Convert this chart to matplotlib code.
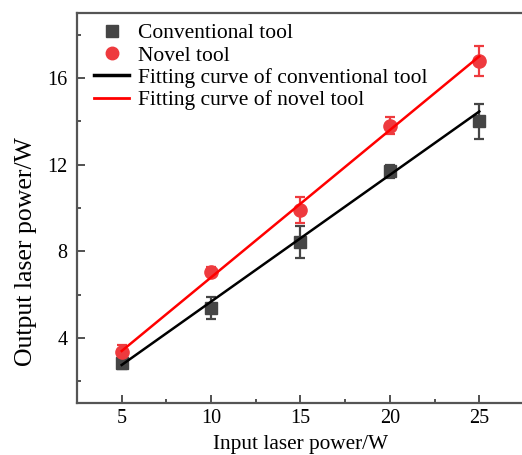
import matplotlib.pyplot as plt
from matplotlib.lines import Line2D
import numpy as np

plt.rcParams['font.family'] = ['Liberation Serif', 'DejaVu Serif']

input_power = [5, 10, 15, 20, 25]
conv_out = [2.85, 5.38, 8.43, 11.7, 14.0]
conv_err = [0.3, 0.5, 0.75, 0.3, 0.8]
novel_out = [3.37, 7.06, 9.9, 13.8, 16.8]
novel_err = [0.3, 0.2, 0.6, 0.4, 0.7]

# fitted lines (slope, intercept)
conv_fit = [0.585, -0.17]
novel_fit = [0.68, 0.0]

conv_color = '#454545'
novel_color = '#ee3a3e'

fig = plt.figure(figsize=(5.22, 4.55), dpi=100)
ax = fig.add_axes([0.1475, 0.1143, 0.8563, 0.8571])

x = np.array(input_power)
ax.errorbar(input_power, conv_out, yerr=conv_err, fmt='s', color=conv_color,
            ms=8.5, capsize=3.5, elinewidth=1.6, capthick=1.6, zorder=3)
ax.errorbar(input_power, novel_out, yerr=novel_err, fmt='o', color=novel_color,
            ms=9.5, capsize=3.5, elinewidth=1.6, capthick=1.6, zorder=3)
ax.plot(x, np.polyval(conv_fit, x), color='black', lw=1.8, zorder=4)
ax.plot(x, np.polyval(novel_fit, x), color='red', lw=1.8, zorder=4)

ax.set_xlim(2.5, 27.5)
ax.set_ylim(1, 19)
ax.set_xticks([5, 10, 15, 20, 25])
ax.set_xticks([7.5, 12.5, 17.5, 22.5], minor=True)
ax.set_yticks([4, 8, 12, 16])
ax.set_yticks([2, 6, 10, 14, 18], minor=True)
ax.tick_params(direction='in', which='major', length=6, width=1.2, labelsize=14.5,
               colors='#333333', labelcolor='black')
ax.tick_params(direction='in', which='minor', length=3, width=1.2, colors='#333333')
ax.tick_params(axis='x', pad=4)
ax.tick_params(axis='y', pad=7)
for s in ax.spines.values():
    s.set_linewidth(1.6)
    s.set_color('#555555')

ax.set_xlabel('Input laser power/W', fontsize=15.3, labelpad=5.5)
ax.set_ylabel('Output laser power/W', fontsize=18.5)
ax.yaxis.set_label_coords(-0.09, 0.388)

handles = [
    Line2D([], [], marker='s', ls='none', color=conv_color, ms=8),
    Line2D([], [], marker='o', ls='none', color=novel_color, ms=9),
    Line2D([], [], color='black', lw=2.5),
    Line2D([], [], color='red', lw=2.0),
]
labels = ['Conventional tool', 'Novel tool',
          'Fitting curve of conventional tool', 'Fitting curve of novel tool']
ax.legend(handles, labels, loc='upper left', fontsize=15.5, frameon=False,
          handlelength=1.63, handletextpad=0.42, labelspacing=0.11,
          borderpad=0.4, borderaxespad=0.0, bbox_to_anchor=(0.0188, 0.9964))

fig.savefig('out.png', dpi=100)
